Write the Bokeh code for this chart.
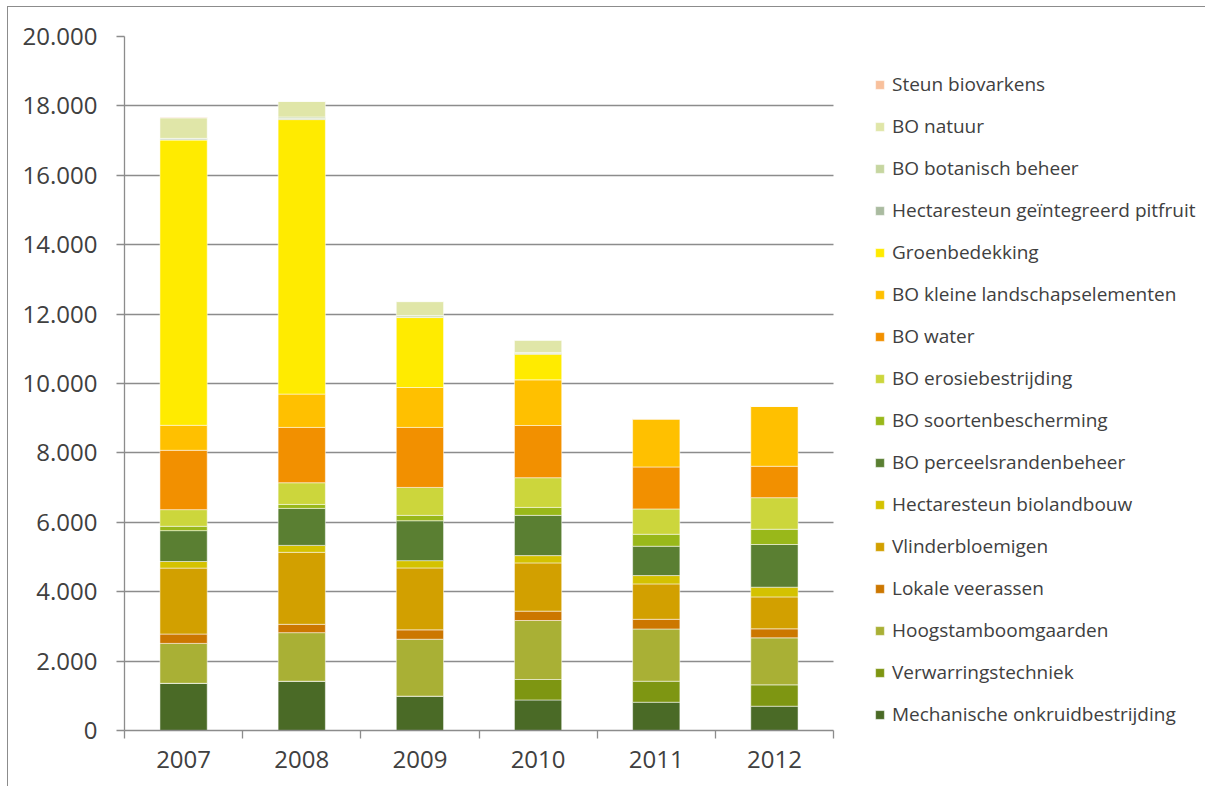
from bokeh.plotting import figure
from bokeh.models import ColumnDataSource, Range1d, FixedTicker, Legend, LegendItem
from bokeh.embed import file_html
from bokeh.resources import INLINE

# ---- data (hectares) ----
years = ["2007", "2008", "2009", "2010", "2011", "2012"]

mechanische = [1360, 1420, 990, 880, 815, 700]
verwarring = [0, 0, 0, 590, 605, 615]
hoogstam = [1150, 1400, 1640, 1700, 1505, 1355]
lokale = [270, 240, 270, 270, 280, 260]
vlinder = [1900, 2075, 1785, 1390, 1020, 920]
hect_bio = [190, 200, 210, 210, 240, 280]
perceel = [890, 1065, 1150, 1160, 845, 1230]
soorten = [125, 115, 155, 230, 345, 440]
erosie = [480, 625, 805, 855, 730, 910]
water = [1710, 1595, 1730, 1505, 1210, 905]
kleine = [720, 960, 1150, 1315, 1390, 1735]
groen = [8220, 7910, 2015, 740, 0, 0]
pitfruit = [30, 30, 20, 20, 0, 0]
botanisch = [20, 45, 40, 30, 0, 0]
natuur = [590, 450, 400, 355, 0, 0]
steun = [15, 0, 0, 0, 0, 0]

series_names = [
    "Mechanische onkruidbestrijding", "Verwarringstechniek", "Hoogstamboomgaarden",
    "Lokale veerassen", "Vlinderbloemigen", "Hectaresteun biolandbouw",
    "BO perceelsrandenbeheer", "BO soortenbescherming", "BO erosiebestrijding",
    "BO water", "BO kleine landschapselementen", "Groenbedekking",
    "Hectaresteun geïntegreerd pitfruit", "BO botanisch beheer", "BO natuur",
    "Steun biovarkens",
]
series_values = [mechanische, verwarring, hoogstam, lokale, vlinder, hect_bio,
                 perceel, soorten, erosie, water, kleine, groen, pitfruit,
                 botanisch, natuur, steun]
series_colors = [
    "#4A6A26", "#7E9612", "#A9B035", "#CC7700", "#D2A000", "#D4C200",
    "#5A7F32", "#99B81A", "#CCD63C", "#F29000", "#FFC000", "#FFEB00",
    "#AABBA0", "#C6D6A0", "#E0E6A8", "#F8C09C",
]

y_ticks = [0, 2000, 4000, 6000, 8000, 10000, 12000, 14000, 16000, 18000, 20000]
y_labels = ["0", "2.000", "4.000", "6.000", "8.000", "10.000", "12.000",
            "14.000", "16.000", "18.000", "20.000"]

FONT = "Open Sans"
TXT = "#404040"
GRID = "#8c8c8c"

n_cat = len(years)
centers = [i + 0.5 for i in range(n_cat)]
bounds = list(range(n_cat + 1))

# layout: bar area 709 px wide; the frame continues to the right to hold the legend
BAR_AREA_PX = 709
FRAME_PX = 1081
x_end = n_cat * FRAME_PX / BAR_AREA_PX

data = {"x": centers}
keys = []
for i, vals in enumerate(series_values):
    k = "s%d" % i
    keys.append(k)
    data[k] = vals
source = ColumnDataSource(data)

p = figure(frame_width=FRAME_PX, frame_height=694, output_backend="svg",
           toolbar_location=None,
           x_range=Range1d(0, x_end), y_range=Range1d(0, 20000),
           min_border_left=116, min_border_right=0, min_border_top=29,
           min_border_bottom=56)
p.outline_line_color = None
p.styles = {"margin-left": "7px", "margin-top": "6px",
            "border-left": "1px solid #8c8c8c", "border-top": "1px solid #8c8c8c"}

renderers = p.vbar_stack(keys, x="x", width=0.4, source=source,
                         color=series_colors, line_color="white",
                         line_width=1, line_alpha=0.5)

# x axis: labels at category centres, ticks at category boundaries
xa = p.xaxis[0]
xa.bounds = (0, n_cat)
xa.ticker = FixedTicker(ticks=centers, minor_ticks=bounds)
xa.major_label_overrides = {c: y for c, y in zip(centers, years)}
xa.major_tick_in = 0
xa.major_tick_out = 0
xa.minor_tick_in = 0
xa.minor_tick_out = 8
xa.minor_tick_line_color = GRID
xa.minor_tick_line_width = 1.3
xa.axis_line_color = GRID
xa.axis_line_width = 1.3
xa.major_label_text_font = FONT
xa.major_label_text_font_size = "24px"
xa.major_label_text_color = TXT
xa.major_label_standoff = 12

ya = p.yaxis[0]
ya.ticker = FixedTicker(ticks=y_ticks, minor_ticks=[])
ya.major_label_overrides = {t: l for t, l in zip(y_ticks, y_labels)}
ya.major_tick_in = 0
ya.major_tick_out = 8
ya.major_tick_line_color = GRID
ya.major_tick_line_width = 1.3
ya.minor_tick_line_color = None
ya.axis_line_color = GRID
ya.axis_line_width = 1.3
ya.major_label_text_font = FONT
ya.major_label_text_font_size = "24px"
ya.major_label_text_color = TXT
ya.major_label_standoff = 19

p.xgrid.visible = False
p.ygrid.grid_line_color = GRID
p.ygrid.grid_line_width = 1.3
p.ygrid.cross_bounds = (0, n_cat)

items = [LegendItem(label=n, renderers=[r]) for n, r in zip(series_names, renderers)]
items = items[::-1]
legend = Legend(items=items, location=(BAR_AREA_PX + 41, 3), orientation="vertical",
                glyph_width=11, glyph_height=11, label_standoff=7,
                label_height=25, spacing=16, padding=0, margin=0,
                label_text_font=FONT, label_text_font_size="19px",
                label_text_color=TXT, border_line_color=None,
                background_fill_alpha=0)
p.add_layout(legend, "center")

open("out.html", "w").write(file_html(p, INLINE))
